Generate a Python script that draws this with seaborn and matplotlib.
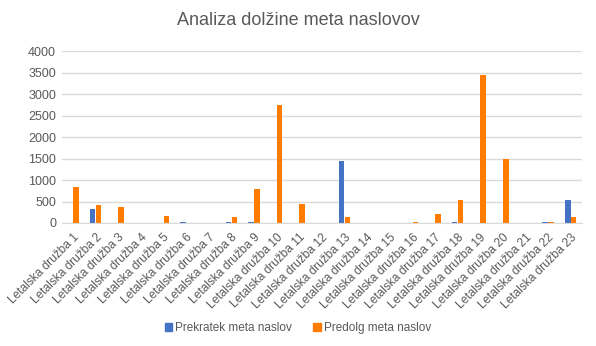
import matplotlib
matplotlib.use("Agg")
import matplotlib.pyplot as plt
import seaborn as sns
import pandas as pd
from matplotlib.patches import Patch

categories = [f"Letalska družba {i}" for i in range(1, 24)]
prekratek = [0, 330, 0, 0, 0, 25, 0, 25, 25, 0, 0, 0, 1450, 0, 0, 0, 0, 25, 0, 0, 0, 25, 540]
predolg = [840, 420, 370, 0, 160, 0, 0, 140, 790, 2750, 440, 0, 140, 0, 0, 25, 210, 540, 3440, 1490, 0, 25, 140]
series_names = ["Prekratek meta naslov", "Predolg meta naslov"]
yticks = [0, 500, 1000, 1500, 2000, 2500, 3000, 3500, 4000]

df = pd.DataFrame({
    "cat": categories * 2,
    "val": prekratek + predolg,
    "series": [series_names[0]] * 23 + [series_names[1]] * 23,
})

sns.set_style("white")
plt.rcParams["font.family"] = ["Liberation Sans", "DejaVu Sans"]
colors = ["#4472C4", "#FF7C00"]
grey = "#595959"

fig = plt.figure(figsize=(5.96, 3.46), dpi=100)
ax = fig.add_axes([0.1035, 0.3555, 0.873, 0.497])
sns.barplot(data=df, x="cat", y="val", hue="series", palette=colors,
            width=0.52, gap=0.06, ax=ax, legend=False, saturation=1,
            linewidth=0)
ax.set_xlim(-0.5, 22.5)
ax.set_ylim(0, 4000)
ax.set_yticks(yticks)
ax.set_yticklabels([str(t) for t in yticks], color=grey, fontsize=9)
ax.set_xticks(range(23))
ax.set_xticklabels(categories, rotation=45, ha="right", rotation_mode="anchor",
                   color=grey, fontsize=8.6)
ax.tick_params(axis="x", length=0, pad=6)
ax.tick_params(axis="y", length=0, pad=4)
ax.grid(axis="y", color="#D9D9D9", linewidth=1)
ax.set_axisbelow(True)
for s in ["top", "right", "left"]:
    ax.spines[s].set_visible(False)
ax.spines["bottom"].set_color("#D9D9D9")
ax.set_xlabel("")
ax.set_ylabel("")
fig.text(0.5, 0.94, "Analiza dolžine meta naslovov", ha="center", va="center",
         fontsize=13, color=grey)
handles = [Patch(color=c, label=n) for c, n in zip(colors, series_names)]
fig.legend(handles=handles, loc="center", bbox_to_anchor=(0.5, 0.052), ncol=2,
           frameon=False, fontsize=8.5, handlelength=0.6, handleheight=0.6,
           handletextpad=0.3, columnspacing=1.8, labelcolor=grey)
fig.savefig("out.png", dpi=100)
